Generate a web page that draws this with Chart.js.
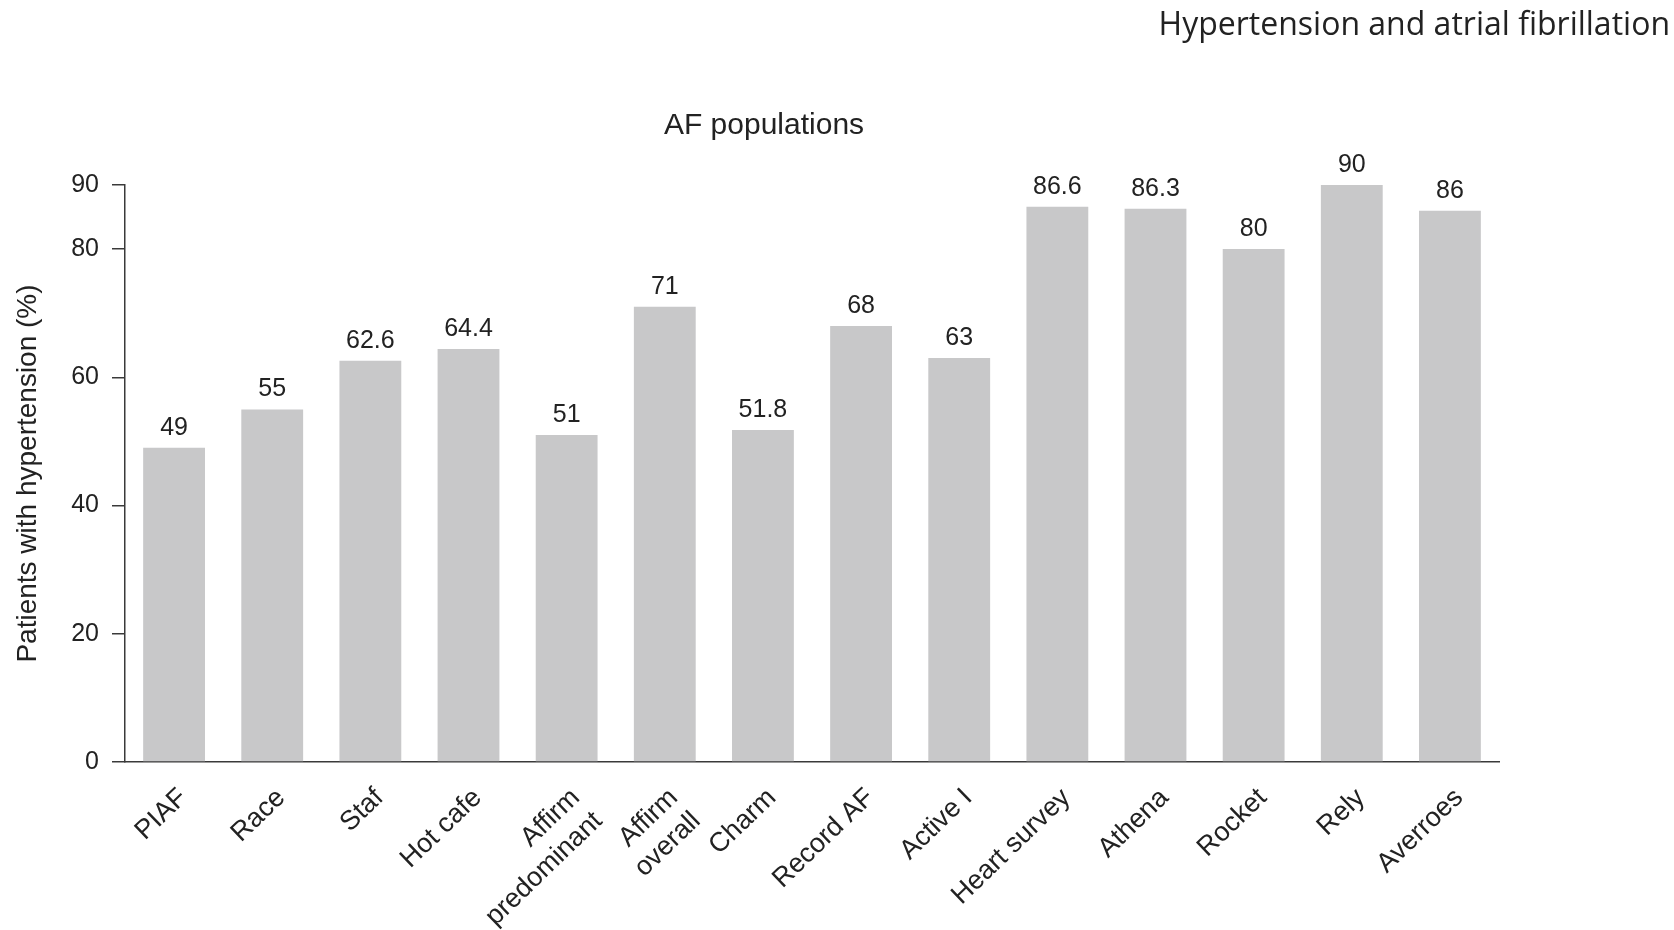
<!DOCTYPE html>
<html>
<head>
<meta charset="utf-8">
<title>Hypertension and atrial fibrillation</title>
<script src="https://cdn.jsdelivr.net/npm/chart.js@4.4.1/dist/chart.umd.min.js"></script>
<style>
  html, body { margin: 0; padding: 0; background: #ffffff; }
  #wrap { position: relative; width: 1674px; height: 930px; }
</style>
</head>
<body>
<div id="wrap"><canvas id="chart" width="1674" height="930"></canvas></div>
<script>
// Study cohorts (AF populations)
const studies = [
  'PIAF', 'Race', 'Staf', 'Hot cafe', ['Affirm', 'predominant'], ['Affirm', 'overall'],
  'Charm', 'Record AF', 'Active I', 'Heart survey', 'Athena', 'Rocket', 'Rely', 'Averroes'
];
// Share of patients with hypertension, %
const hypertensionPct = [49, 55, 62.6, 64.4, 51, 71, 51.8, 68, 63, 86.6, 86.3, 80, 90, 86];
// Y axis tick values
const yTicks = [0, 20, 40, 60, 80, 90];

const pageTitle = 'Hypertension and atrial fibrillation';
const chartTitle = 'AF populations';
const yTitle = 'Patients with hypertension (%)';

const TEXT = '#222222';
const AXIS = '#3a3a3a';
const SANS = '"Liberation Sans", Arial, sans-serif';

// Value printed above each bar
const barValueLabels = {
  id: 'barValueLabels',
  afterDatasetsDraw(chart) {
    const ctx = chart.ctx;
    const meta = chart.getDatasetMeta(0);
    const values = chart.data.datasets[0].data;
    ctx.save();
    ctx.font = '25px ' + SANS;
    ctx.fillStyle = TEXT;
    ctx.textAlign = 'center';
    ctx.textBaseline = 'alphabetic';
    meta.data.forEach((bar, i) => {
      ctx.fillText(String(values[i]), bar.x, bar.y - 13);
    });
    ctx.restore();
  }
};

// Running header and chart heading
const headings = {
  id: 'headings',
  afterDraw(chart) {
    const ctx = chart.ctx;
    ctx.save();
    ctx.fillStyle = TEXT;
    ctx.textBaseline = 'alphabetic';
    ctx.font = '32px "Open Sans", "Noto Sans", sans-serif';
    ctx.textAlign = 'right';
    ctx.fillText(pageTitle, 1670, 35);
    ctx.font = '30px ' + SANS;
    ctx.textAlign = 'center';
    ctx.fillText(chartTitle, 764, 134);
    ctx.restore();
  }
};

new Chart(document.getElementById('chart'), {
  type: 'bar',
  data: {
    labels: studies,
    datasets: [{
      data: hypertensionPct,
      backgroundColor: '#c8c8c9',
      borderWidth: 0,
      barPercentage: 0.63,
      categoryPercentage: 1.0
    }]
  },
  options: {
    responsive: false,
    animation: false,
    devicePixelRatio: 1,
    layout: { padding: { top: 185, right: 175, bottom: 0, left: 0 } },
    plugins: {
      legend: { display: false },
      tooltip: { enabled: false },
      title: { display: false }
    },
    scales: {
      x: {
        offset: true,
        grid: { display: false },
        border: { display: true, color: AXIS, width: 1.5 },
        ticks: {
          color: TEXT,
          font: { family: SANS, size: 27 },
          minRotation: 44,
          maxRotation: 44,
          autoSkip: false,
          padding: 12,
          labelOffset: 9
        },
        afterFit(scale) { scale.height = 168; }
      },
      y: {
        min: 0,
        max: 90,
        grid: {
          drawOnChartArea: false,
          drawTicks: true,
          tickLength: 13,
          color: AXIS,
          lineWidth: 1.5
        },
        border: { display: true, color: AXIS, width: 1.5 },
        afterBuildTicks(scale) { scale.ticks = yTicks.map(v => ({ value: v })); },
        ticks: {
          color: TEXT,
          font: { family: SANS, size: 25 },
          padding: 13
        },
        title: {
          display: true,
          text: yTitle,
          color: TEXT,
          font: { family: SANS, size: 28 },
          padding: { top: 11, bottom: 0 }
        },
        afterFit(scale) { scale.width = 125; }
      }
    }
  },
  plugins: [barValueLabels, headings]
});
</script>
</body>
</html>
